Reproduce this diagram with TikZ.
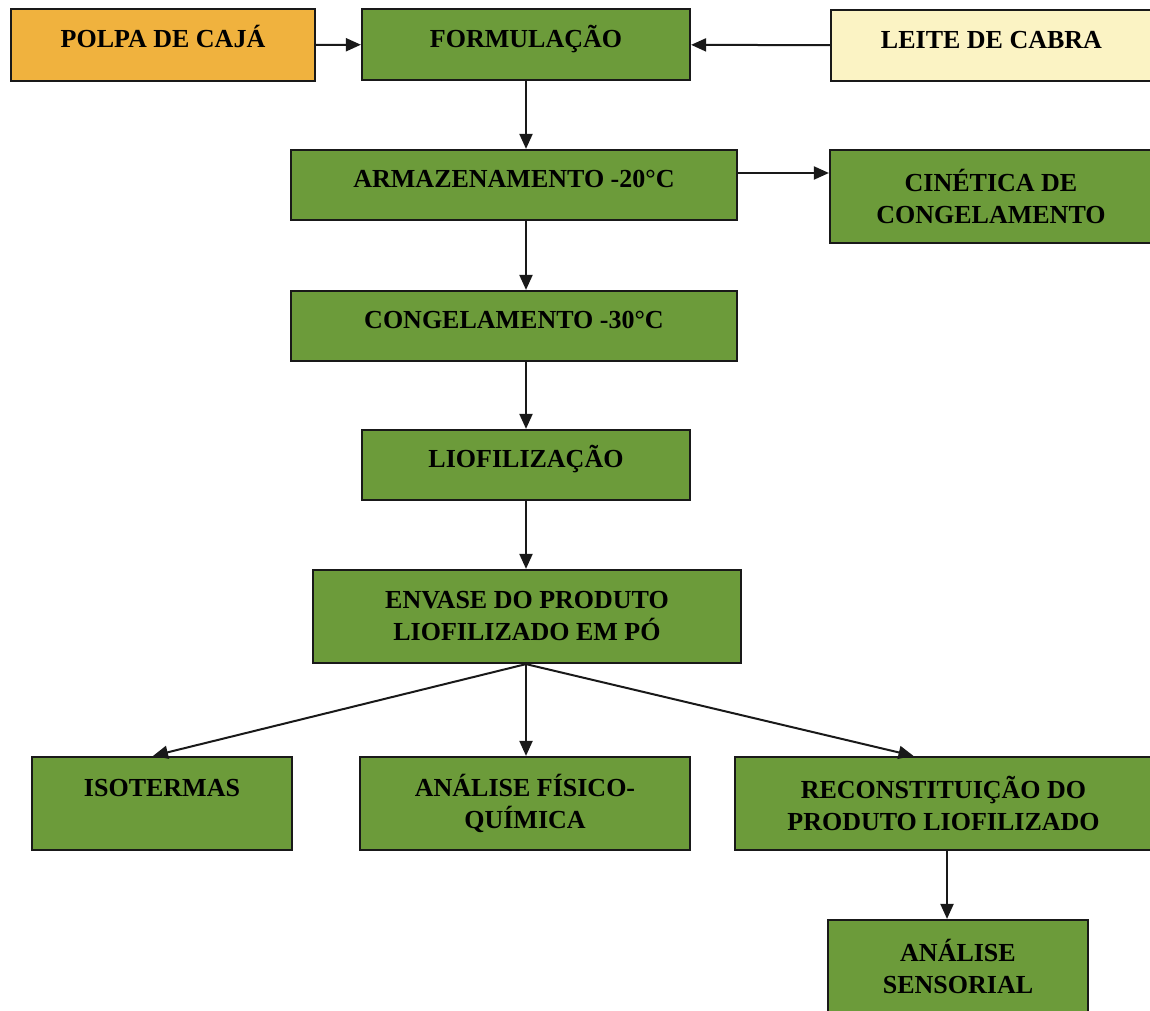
\documentclass[tikz,border=0pt]{standalone}
\usepackage{fontspec}
\setmainfont{Liberation Serif}
\usetikzlibrary{arrows.meta}

\definecolor{boxgreen}{RGB}{108,155,58}
\definecolor{boxorange}{RGB}{240,178,62}
\definecolor{boxyellow}{RGB}{251,243,196}

\begin{document}
\begin{tikzpicture}[x=1pt,y=-1pt,
    etapa/.style={draw=black!90,line width=2.2pt,fill=boxgreen,rectangle,
      align=center,inner sep=0pt,
      font=\fontsize{26}{32}\selectfont\bfseries},
    linha/.style={text height=17pt,text depth=12pt},
    seta/.style={draw=black!90,line width=2pt,
      -{Triangle[length=15pt,width=13pt]}}]
  \useasboundingbox (0,0) rectangle (1150,1010);
  \node[etapa,linha,fill=boxorange,minimum width=304,minimum height=72] (polpa) at (163,45){POLPA DE CAJÁ};
  \node[etapa,linha,minimum width=328,minimum height=71] (form) at (526,44.5){FORMULAÇÃO};
  \node[etapa,linha,fill=boxyellow,minimum width=321,minimum height=71] (leite) at (991.5,45.5){LEITE DE CABRA};
  \node[etapa,linha,minimum width=446,minimum height=70] (armaz) at (514,185){ARMAZENAMENTO -20°C};
  \node[etapa,minimum width=322,minimum height=93] (cinet) at (991,196.5){CINÉTICA DE\\CONGELAMENTO};
  \node[etapa,linha,minimum width=446,minimum height=70] (cong) at (514,326){CONGELAMENTO -30°C};
  \node[etapa,linha,minimum width=328,minimum height=70] (liof) at (526,465){LIOFILIZAÇÃO};
  \node[etapa,minimum width=428,minimum height=93] (envase) at (527,616.5){ENVASE DO PRODUTO\\LIOFILIZADO EM PÓ};
  \node[etapa,minimum width=260,minimum height=93] (iso) at (162,803.5){ISOTERMAS\\\mbox{}};
  \node[etapa,minimum width=330,minimum height=93] (fisq) at (525,803.5){ANÁLISE FÍSICO-\\QUÍMICA};
  \node[etapa,minimum width=417,minimum height=93] (recon) at (943.5,803.5){RECONSTITUIÇÃO DO\\PRODUTO LIOFILIZADO};
  \node[etapa,minimum width=260,minimum height=93] (sens) at (958,966.5){ANÁLISE\\SENSORIAL};
  \path[seta] (polpa) -- (form);
  \path[seta] (leite) -- (form);
  \path[seta] (form.south) -- (form.south |- armaz.north);
  \path[seta] ([yshift=12pt]armaz.east) -- ([yshift=23.5pt]cinet.west);
  \path[seta] (form.south |- armaz.south) -- (form.south |- cong.north);
  \path[seta] (form.south |- cong.south) -- (liof.north);
  \path[seta] (liof.south) -- (liof.south |- envase.north);
  \path[seta] (liof.south |- envase.south) -- ([xshift=-9pt]iso.north);
  \path[seta] (liof.south |- envase.south) -- (liof.south |- fisq.north);
  \path[seta] (liof.south |- envase.south) -- ([xshift=-30pt]recon.north);
  \path[seta] ([xshift=3.5pt]recon.south) -- ([xshift=3.5pt]recon.south |- sens.north);
\end{tikzpicture}
\end{document}
